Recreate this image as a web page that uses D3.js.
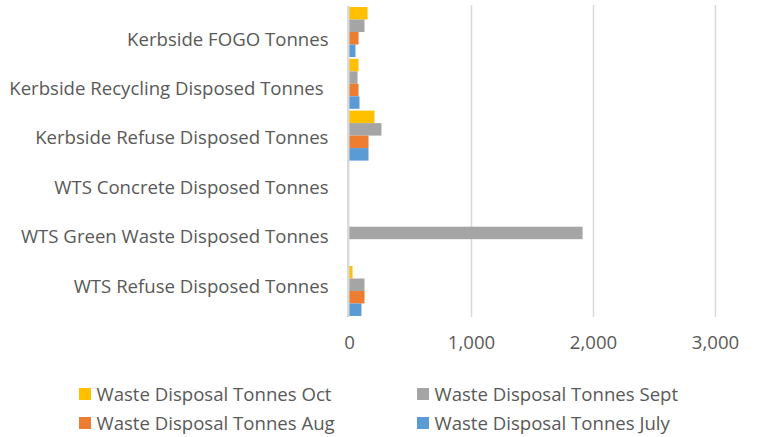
<!DOCTYPE html>
<html>
<head>
<meta charset="utf-8">
<script src="https://cdn.jsdelivr.net/npm/d3@7"></script>
<style>
  html, body { margin: 0; padding: 0; background: #fff; }
  svg { display: block; font-family: "Open Sans", sans-serif; }
  text { white-space: pre; }
</style>
</head>
<body>
<svg id="chart"></svg>
<script>
// categories, top to bottom as shown
const categories = [
    "Kerbside FOGO Tonnes",
    "Kerbside Recycling Disposed Tonnes ",
    "Kerbside Refuse Disposed Tonnes",
    "WTS Concrete Disposed Tonnes",
    "WTS Green Waste Disposed Tonnes",
    "WTS Refuse Disposed Tonnes"
];
const seriesNames = ["Waste Disposal Tonnes Oct", "Waste Disposal Tonnes Sept", "Waste Disposal Tonnes Aug", "Waste Disposal Tonnes July"];
const octValues = [152, 78, 209, 0, 0, 29];
const septValues = [127, 70, 266, 0, 1915, 127];
const augValues = [78, 78, 160, 0, 0, 127];
const julyValues = [53, 86, 160, 0, 0, 102];
const xTicks = [0, 1000, 2000, 3000];

const colors = ["#FFC000", "#A5A5A5", "#ED7D31", "#5B9BD5"];
const allValues = [octValues, septValues, augValues, julyValues];

const width = 757, height = 437;
const plot = { left: 349, right: 715, top: 6, bottom: 317 };
const fontSize = 18.6;

const svg = d3.select("#chart")
    .attr("width", width)
    .attr("height", height)
    .attr("viewBox", [0, 0, width, height]);

const x = d3.scaleLinear().domain([0, 3000]).range([plot.left, plot.right]);
const y0 = d3.scaleBand().domain(categories).range([plot.top, plot.bottom])
    .paddingInner(0.035).paddingOuter(0.02);
const y1 = d3.scaleBand().domain(seriesNames).range([0, y0.bandwidth()]);
// label baselines in the source sit a little off the band centres
const yLabel = d3.scalePoint().domain(categories).range([45.5, 292.5]);

// gridlines
svg.append("g")
    .attr("transform", `translate(0,${plot.bottom})`)
    .call(d3.axisBottom(x).tickValues(xTicks.slice(1)).tickSize(-(plot.bottom - plot.top + 1)).tickFormat(""))
    .call(g => g.select(".domain").remove())
    .call(g => g.selectAll(".tick line").attr("stroke", "#d9d9d9").attr("stroke-width", 1.5));

// bars
const rows = categories.map((c, i) => ({
    cat: c,
    vals: seriesNames.map((s, j) => ({ s, v: allValues[j][i], color: colors[j] }))
}));

const groups = svg.append("g").selectAll("g")
    .data(rows)
    .join("g")
    .attr("transform", d => `translate(0,${y0(d.cat)})`);

groups.selectAll("rect")
    .data(d => d.vals)
    .join("rect")
    .attr("x", x(0))
    .attr("y", d => y1(d.s))
    .attr("width", d => x(d.v) - x(0))
    .attr("height", y1.bandwidth())
    .attr("fill", d => d.color);

// zero line
svg.append("line")
    .attr("x1", x(0) - 0.7).attr("x2", x(0) - 0.7)
    .attr("y1", plot.top).attr("y2", plot.bottom)
    .attr("stroke", "#d9d9d9")
    .attr("stroke-width", 2.4);

// x axis labels
svg.append("g")
    .attr("transform", `translate(0,${plot.bottom})`)
    .call(d3.axisBottom(x).tickValues(xTicks).tickSize(0).tickPadding(19).tickFormat(d3.format(",")))
    .call(g => g.select(".domain").remove())
    .call(g => g.selectAll("text")
        .attr("fill", "#595959")
        .attr("font-size", fontSize)
        .attr("font-family", "'Open Sans', sans-serif"));

// category labels
svg.append("g").selectAll("text")
    .data(categories)
    .join("text")
    .attr("x", 328.5)
    .attr("y", d => yLabel(d))
    .attr("text-anchor", "end")
    .attr("fill", "#595959")
    .attr("font-size", fontSize)
    .text(d => d);

// legend
const legendPos = [[79, 401], [417, 401], [79, 430], [417, 430]];
const legend = svg.append("g").selectAll("g")
    .data(seriesNames)
    .join("g")
    .attr("transform", (d, i) => `translate(${legendPos[i][0]},${legendPos[i][1]})`);

legend.append("rect")
    .attr("x", 0).attr("y", -13)
    .attr("width", 12).attr("height", 12)
    .attr("fill", (d, i) => colors[i]);

legend.append("text")
    .attr("x", 17.5).attr("y", 0)
    .attr("fill", "#595959")
    .attr("font-size", fontSize)
    .text(d => d);
</script>
</body>
</html>
